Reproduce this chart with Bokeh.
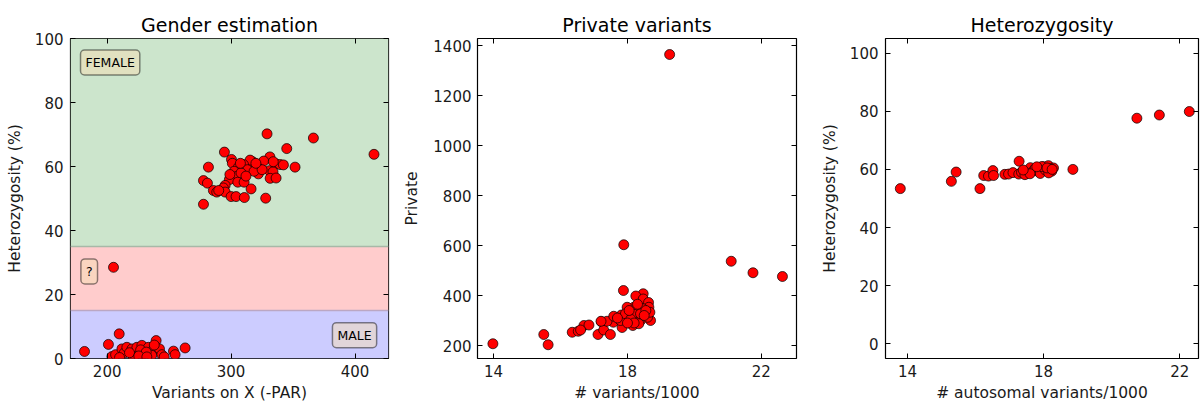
from bokeh.plotting import figure
from bokeh.layouts import row
from bokeh.models import BoxAnnotation, Span, Label, LinearAxis, FixedTicker, Range1d
from bokeh.embed import file_html
from bokeh.resources import INLINE

FONT = "DejaVu Sans"

# ---------------- data ----------------
# Panel 1: Gender estimation (variants on X vs heterozygosity %)
gender_x = [329.0, 366.4, 415.3, 344.9, 294.6, 300.3, 301.0, 281.7, 351.6, 331.3,
            326.3, 317.3, 315.3, 310.0, 305.9, 313.1, 321.2, 322.0, 330.9, 336.3,
            339.5, 342.2, 333.8, 331.5, 336.3, 302.4, 304.6, 298.6, 305.4, 310.5,
            295.2, 293.8, 316.1, 277.7, 280.9, 285.7, 288.4, 295.2, 300.0, 304.0,
            310.7, 327.9, 277.7, 308.0, 318.5, 325.0, 312.0, 299.0, 290.0, 320.0,
            334.0, 307.5,
            181.7, 201.0, 209.7, 203.8, 206.8, 211.9, 213.7, 215.9, 220.0, 224.0,
            228.0, 229.3, 221.2, 233.3, 236.8, 239.5, 242.2, 244.1, 235.9, 253.5,
            254.8, 262.9, 227.0, 231.5, 218.0, 225.5, 238.0, 246.0, 210.0, 232.0,
            205.1]
gender_y = [70.2, 68.9, 63.8, 65.6, 64.5, 62.2, 61.0, 59.8, 59.8, 63.0,
            61.7, 61.5, 62.0, 60.6, 59.8, 59.0, 59.8, 57.7, 58.7, 60.8,
            60.6, 60.5, 58.3, 56.3, 56.4, 58.5, 56.9, 55.9, 55.1, 55.1,
            54.1, 53.3, 53.0, 55.6, 54.8, 52.5, 52.0, 52.0, 50.6, 50.6,
            50.3, 50.1, 48.2, 58.0, 58.5, 59.0, 57.0, 57.5, 52.5, 61.0,
            61.5, 61.0,
            2.2, 4.4, 7.7, 0.6, 1.2, 3.0, 1.7, 3.5, 3.0, 3.5,
            4.1, 1.5, 0.4, 3.5, 2.5, 5.6, 3.0, 1.2, 1.0, 2.3,
            1.2, 3.3, 2.7, 2.0, 1.8, 0.8, 4.2, 0.5, 0.3, 0.5,
            28.5]
band_bottom = [35, 15, 0]
band_top = [100, 35, 15]
band_color = ["#cce5cc", "#ffcccc", "#ccccff"]
band_edges = [35, 15]
band_edge_color = ["#a7b9a7", "#bba7c3"]
class_labels = ["FEMALE", "?", "MALE"]
class_label_x = [202.4, 185.5, 399.6]
class_label_y = [92.5, 27.2, 7.3]

# Panel 2: Private variants
priv_x = [19.26, 17.89, 21.10, 21.75, 22.63, 13.98, 15.50, 15.63, 17.88, 16.35,
          16.53, 16.70, 16.85, 17.12, 17.22, 17.29, 17.49, 17.58, 17.84, 17.82,
          18.09, 18.47, 18.25, 18.47, 18.63, 18.64, 18.69, 18.46, 18.19, 18.19,
          17.99, 18.16, 18.39, 18.09, 17.79, 18.39, 17.39, 17.21, 17.59, 17.94,
          18.34, 18.60, 18.67, 18.10, 18.55, 18.30, 18.05, 17.70, 18.20, 18.50,
          18.00, 16.60]
priv_y = [1364, 603, 537, 491, 476, 207, 244, 203, 420, 253,
          257, 280, 282, 244, 295, 262, 244, 293, 272, 322,
          327, 407, 398, 386, 372, 353, 300, 347, 353, 325,
          353, 280, 300, 300, 300, 327, 297, 297, 317, 327,
          287, 313, 333, 305, 340, 365, 340, 310, 290, 320,
          290, 262]

# Panel 3: Heterozygosity (autosomal)
het_x = [13.79, 15.29, 15.43, 16.13, 16.24, 16.38, 16.51, 16.53, 16.86, 16.97,
         17.10, 17.28, 17.27, 17.35, 17.51, 17.61, 17.70, 17.85, 18.00, 18.14,
         18.24, 18.29, 18.20, 18.86, 20.74, 21.40, 22.28, 17.45, 17.75, 17.90,
         18.05, 18.15, 17.60, 17.95, 18.10, 17.80, 17.40, 18.25]
het_y = [53.4, 55.9, 59.1, 53.4, 57.9, 57.7, 59.6, 57.9, 58.3, 58.4,
         58.9, 62.8, 58.4, 59.0, 59.2, 60.6, 59.5, 59.4, 60.9, 61.3,
         59.4, 60.5, 60.2, 60.0, 77.6, 78.7, 79.9, 58.2, 60.3, 58.6,
         59.8, 58.8, 58.5, 61.0, 60.5, 60.9, 59.8, 60.0]

pct_ticks = [0, 20, 40, 60, 80, 100]
gender_xticks = [200, 300, 400]
kvar_ticks = [14, 18, 22]
priv_ticks = [200, 400, 600, 800, 1000, 1200, 1400]


def make_fig(title, xr, yr, xticks, yticks, xlabel, ylabel, width, left, right):
    p = figure(width=width, height=404, x_range=Range1d(*xr), y_range=Range1d(*yr),
               output_backend="svg", toolbar_location=None,
               min_border_left=left, min_border_right=right,
               min_border_top=38, min_border_bottom=46,
               background_fill_color="white", border_fill_color="white")
    p.title.text = title
    p.title.align = "center"
    p.title.text_font = FONT
    p.title.text_font_size = "19px"
    p.title.text_font_style = "normal"
    p.title.text_color = "black"
    p.title.standoff = 5
    p.grid.visible = False
    p.outline_line_color = "black"
    p.outline_line_width = 1.2
    p.outline_line_alpha = 1
    p.xaxis.ticker = FixedTicker(ticks=xticks)
    p.yaxis.ticker = FixedTicker(ticks=yticks)
    p.xaxis.axis_label = xlabel
    p.yaxis.axis_label = ylabel
    for ax in (p.xaxis[0], p.yaxis[0]):
        ax.axis_line_color = None
        ax.major_tick_in = 5
        ax.major_tick_out = 0
        ax.minor_tick_line_color = None
        ax.major_tick_line_color = "black"
        ax.major_label_text_font = FONT
        ax.major_label_text_font_size = "15px"
        ax.major_label_text_color = "#1a1a1a"
        ax.axis_label_text_font = FONT
        ax.axis_label_text_font_size = "15.5px"
        ax.axis_label_text_font_style = "normal"
        ax.axis_label_text_color = "#1a1a1a"
    p.xaxis.major_label_standoff = 6
    p.xaxis.axis_label_standoff = 4
    p.yaxis.major_label_standoff = 7
    p.yaxis.axis_label_standoff = 8
    # tick-only axes on top and right (matplotlib classic box); labels not drawn
    for side, tk in (("above", xticks), ("right", yticks)):
        ax = LinearAxis(ticker=FixedTicker(ticks=tk))
        ax.axis_line_color = None
        ax.major_tick_in = 5
        ax.major_tick_out = 0
        ax.minor_tick_line_color = None
        ax.major_tick_line_color = "black"
        ax.major_label_text_font_size = "1px"
        ax.major_label_text_color = None
        ax.major_label_standoff = 0
        p.add_layout(ax, side)
    return p


# Panel 1
p1 = make_fig("Gender estimation", (170.4, 427.0), (0, 100), gender_xticks, pct_ticks,
              "Variants on X (-PAR)", "Heterozygosity (%)", 398, 70, 10)
for b, t, c in zip(band_bottom, band_top, band_color):
    p1.add_layout(BoxAnnotation(bottom=b, top=t, fill_color=c, fill_alpha=1.0,
                                line_color=None, level="underlay"))
for yv, c in zip(band_edges, band_edge_color):
    p1.add_layout(Span(location=yv, dimension="width", line_color=c, line_width=1.5,
                       level="underlay"))
p1.scatter(gender_x, gender_y, size=10, fill_color="red", line_color="black", line_width=0.7)
for txt, lx, ly in zip(class_labels, class_label_x, class_label_y):
    p1.add_layout(Label(x=lx, y=ly, text=txt, text_align="center", text_baseline="middle",
                        text_font=FONT, text_font_size="12.5px", text_color="black",
                        background_fill_color="wheat", background_fill_alpha=0.5,
                        border_line_color="black", border_line_alpha=0.45,
                        border_line_width=1.5, padding=5, border_radius=4))

# Panel 2
p2 = make_fig("Private variants", (13.52, 23.05), (148, 1428), kvar_ticks, priv_ticks,
              "# variants/1000", "Private", 406, 79, 8)
p2.yaxis.major_label_standoff = 6
p2.yaxis.axis_label_standoff = 9
p2.scatter(priv_x, priv_y, size=10, fill_color="red", line_color="black", line_width=0.7)

# Panel 3
p3 = make_fig("Heterozygosity", (13.355, 22.55), (-5, 105), kvar_ticks, pct_ticks,
              "# autosomal variants/1000", "Heterozygosity (%)", 396, 81, 2)
p3.scatter(het_x, het_y, size=10, fill_color="red", line_color="black", line_width=0.7)

layout = row(p1, p2, p3)
open("out.html", "w").write(file_html(layout, INLINE))
